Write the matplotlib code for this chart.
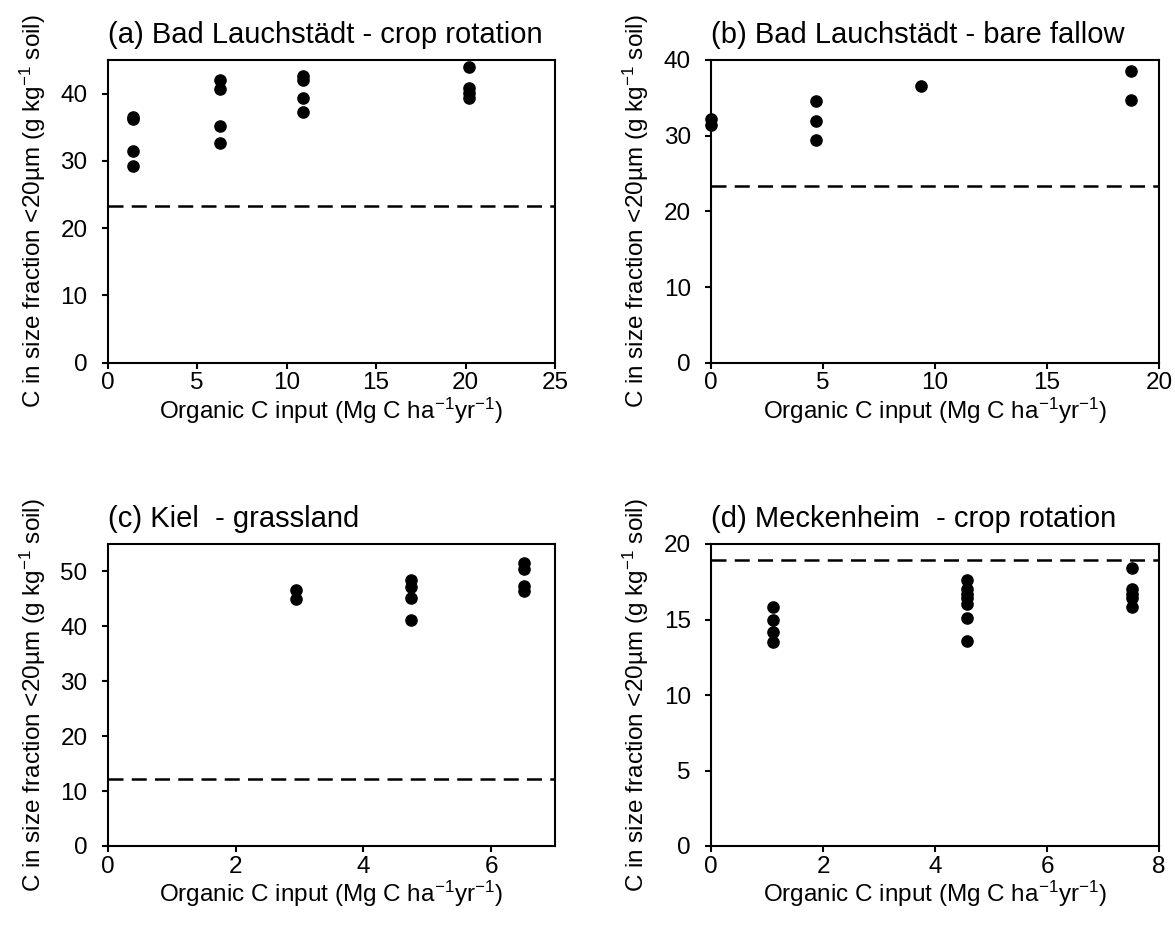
import matplotlib
matplotlib.use("Agg")
import matplotlib.pyplot as plt

plt.rcParams['font.family'] = ['Liberation Sans', 'DejaVu Sans']
plt.rcParams['mathtext.fontset'] = 'custom'
plt.rcParams['mathtext.rm'] = 'Liberation Sans'
plt.rcParams['mathtext.default'] = 'regular'

# ---- data ----
titles = ["(a) Bad Lauchstädt - crop rotation",
          "(b) Bad Lauchstädt - bare fallow",
          "(c) Kiel  - grassland",
          "(d) Meckenheim  - crop rotation"]

a_x = [1.4, 1.4, 1.4, 1.4, 6.3, 6.3, 6.3, 6.3, 10.9, 10.9, 10.9, 10.9, 20.2, 20.2, 20.2, 20.2]
a_y = [36.6, 36.2, 31.4, 29.3, 42.1, 40.7, 35.2, 32.7, 42.6, 42.1, 39.4, 37.2, 43.9, 40.9, 40.1, 39.3]
a_ref = 23.35

b_x = [0.0, 0.0, 4.67, 4.67, 4.67, 9.36, 18.75, 18.75]
b_y = [32.2, 31.4, 34.6, 32.0, 29.4, 36.6, 38.5, 34.7]
b_ref = 23.35

c_x = [2.94, 2.94, 4.75, 4.75, 4.75, 4.75, 6.51, 6.51, 6.51, 6.51]
c_y = [46.7, 45.0, 48.5, 47.2, 45.2, 41.1, 51.5, 50.5, 47.3, 46.4]
c_ref = 12.2

d_x = [1.11, 1.11, 1.11, 1.11, 4.57, 4.57, 4.57, 4.57, 4.57, 4.57, 4.57,
       7.52, 7.52, 7.52, 7.52, 7.52]
d_y = [15.8, 15.0, 14.2, 13.5, 17.6, 17.0, 16.7, 16.4, 16.0, 15.1, 13.6,
       18.4, 17.0, 16.7, 16.4, 15.8]
d_ref = 18.96

xlims = [(0, 25), (0, 20), (0, 7), (0, 8)]
xticks = [[0, 5, 10, 15, 20, 25], [0, 5, 10, 15, 20], [0, 2, 4, 6], [0, 2, 4, 6, 8]]
ylims = [(0, 45), (0, 40), (0, 55), (0, 20)]
yticks = [[0, 10, 20, 30, 40], [0, 10, 20, 30, 40], [0, 10, 20, 30, 40, 50], [0, 5, 10, 15, 20]]

xs = [a_x, b_x, c_x, d_x]
ys = [a_y, b_y, c_y, d_y]
refs = [a_ref, b_ref, c_ref, d_ref]

xlabel = "Organic C input (Mg C ha$^{-1}$yr$^{-1}$)"
ylabel = "C in size fraction <20µm (g kg$^{-1}$ soil)"

W, H = 1175, 935
fig = plt.figure(figsize=(W / 100, H / 100), dpi=100)

boxes = [(107.7, 60, 555, 362.7), (711, 60, 1159, 362.7),
         (107.7, 544, 555, 846), (711, 544, 1159, 846)]

for i in range(4):
    l, t, r, b = boxes[i]
    ax = fig.add_axes([l / W, 1 - b / H, (r - l) / W, (b - t) / H])
    ax.axhline(refs[i], color='black', lw=1.8, dashes=(6, 3.3))
    ax.scatter(xs[i], ys[i], s=65, color='black', zorder=3, clip_on=False)
    ax.set_xlim(*xlims[i])
    ax.set_ylim(*ylims[i])
    ax.set_xticks(xticks[i])
    ax.set_yticks(yticks[i])
    for sp in ax.spines.values():
        sp.set_linewidth(1.5)
    ax.tick_params(direction='out', length=4.5, width=1.5, labelsize=17.5,
                   top=False, right=False)
    ax.tick_params(axis='x', pad=2.5)
    ax.tick_params(axis='y', pad=10)
    ax.set_xlabel(xlabel, fontsize=17.5, labelpad=1)
    ax.set_ylabel(ylabel, fontsize=17.5, labelpad=9)
    ax.set_title(titles[i], loc='left', fontsize=21, pad=12.5)

fig.savefig("out.png", dpi=100)
